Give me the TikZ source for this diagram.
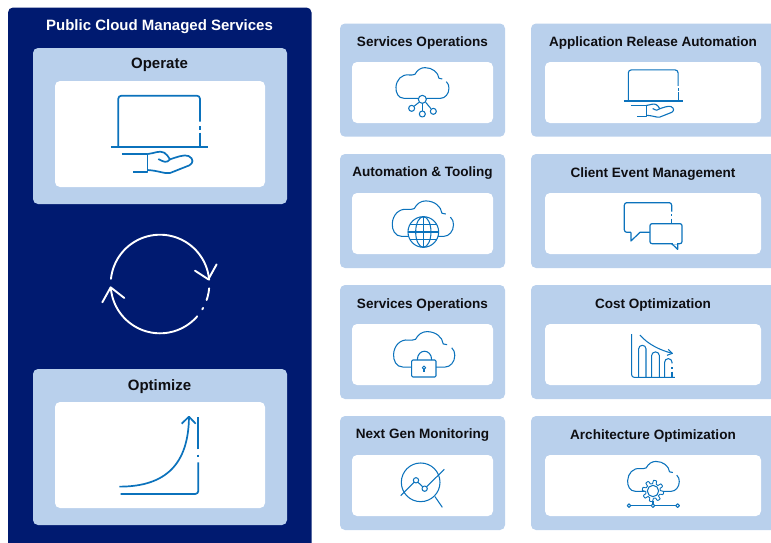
\documentclass[tikz,border=0pt]{standalone}
\usepackage{fontspec}
\setmainfont{Liberation Sans}
\definecolor{navy}{HTML}{001A70}
\definecolor{lightcard}{HTML}{B9D0EC}
\definecolor{iconblue}{HTML}{0B72BC}
\definecolor{titleink}{HTML}{0E0E12}
\tikzset{
  panelbox/.style={fill=navy,rounded corners=5pt},
  cardbox/.style={fill=lightcard,rounded corners=5pt},
  innerbox/.style={fill=white,rounded corners=5pt},
  cardtitle/.style={inner sep=0pt,anchor=base,text=titleink,font=\bfseries\fontsize{13.55}{16}\selectfont},
  maintitle/.style={inner sep=0pt,anchor=base,text=titleink,font=\bfseries\fontsize{15}{18}\selectfont},
  bigtitle/.style={inner sep=0pt,anchor=base,text=white,font=\bfseries\fontsize{15}{18}\selectfont},
  bigicon/.style={draw=iconblue,line width=1.7pt,line join=round,fill=none},
  smallicon/.style={draw=iconblue,line width=1.05pt,line join=round,fill=none},
  whiteicon/.style={draw=white,line width=1.9pt,line cap=round,line join=round,fill=none}
}
\newcommand{\laptophand}{%
  \draw[rounded corners=3pt] (-123,0) -- (-123,-153) -- (122,-153) -- (122,-75);
  \draw (122,-62) -- (122,-50);
  \draw (122,-42) -- (122,0);
  \draw (-145,0) -- (145,0);
  \draw (-112,22) -- (-35,22) -- (-35,76) -- (-80,76);
  \draw (-35,22) .. controls (-15,20) and (0,10) .. (15,18) .. controls (22,22) and (27,30) .. (32,38) .. controls (22,50) and (14,46) .. (-3,37);
  \draw (32,38) .. controls (50,32) and (75,22) .. (88,28) .. controls (104,36) and (102,50) .. (90,56) -- (32,79) .. controls (15,82) and (0,72) .. (-35,70);
}
\newcommand{\cloudshape}{%
  \path[fill=white] (0,45) -- (-55,45) .. controls (-72,45) and (-80,28) .. (-79,12) .. controls (-78,-10) and (-62,-28) .. (-40,-25) .. controls (-34,-24) and (-28,-25) .. (-22,-27) .. controls (-15,-40) and (-5,-47) .. (8,-47) .. controls (30,-47) and (48,-33) .. (48,-15) .. controls (60,-15) and (80,-5) .. (80,15) .. controls (80,32) and (68,45) .. (55,45) -- cycle;
  \draw (0,45) -- (-55,45) .. controls (-72,45) and (-80,28) .. (-79,12) .. controls (-78,-10) and (-62,-28) .. (-40,-25) .. controls (-34,-24) and (-28,-25) .. (-22,-27) .. controls (-15,-40) and (-5,-47) .. (8,-47) .. controls (30,-47) and (48,-33) .. (50,-15) -- (60,-13);
  \draw (72,-5) .. controls (78,0) and (80,8) .. (80,15) .. controls (80,32) and (68,45) .. (55,45) -- (0,45);
}
\begin{document}
\begin{tikzpicture}[x=1pt,y=-1pt]
\useasboundingbox (0,0) rectangle (771,542);
% left panel
\path[panelbox] (8,7.5) rectangle (311.5,548);
\node[bigtitle] (ptitle) at (159.5,30.5) {Public Cloud Managed Services};
\path[cardbox] (33,48) rectangle (287,204);
\path[innerbox] (55,81) rectangle (265,187);
\node[maintitle] (operate) at (159.5,68) {Operate};
\path[cardbox] (33,369) rectangle (287,525);
\path[innerbox] (55,402) rectangle (265,508);
\node[maintitle] (optimize) at (159.5,390) {Optimize};
% operate icon
\begin{scope}[shift={(159.3,146.7)},scale=0.3333,bigicon]
\laptophand
\end{scope}
% optimize icon
\begin{scope}[shift={(0,210)},scale=0.3333,bigicon]
\draw (358,830) .. controls (500,830) and (565,760) .. (567,622);
\draw (545,641) -- (567,620) -- (587,641);
\draw[rounded corners=3pt] (362,852) -- (595,852) -- (595,757);
\draw (595,734) -- (595,740);
\draw (595,718) -- (595,620);
\end{scope}
% cycle
\draw[whiteicon] plot[smooth,domain=186:355,samples=50] ({160+49.3*cos(\x)},{284+49.3*sin(\x)});
\draw[whiteicon] plot[smooth,domain=5:19,samples=6] ({160+49.3*cos(\x)},{284+49.3*sin(\x)});
\draw[whiteicon] plot[smooth,domain=29:31,samples=3] ({160+49.3*cos(\x)},{284+49.3*sin(\x)});
\draw[whiteicon] plot[smooth,domain=41:175,samples=50] ({160+49.3*cos(\x)},{284+49.3*sin(\x)});
\begin{scope}[shift={(0,210)},scale=0.3333,whiteicon]
\draw (585,182) -- (625,208) -- (650,163);
\draw (307,277) -- (332,232) -- (373,264);
\end{scope}
% cards
\foreach \ya/\yb/\yc/\yd in {23.5/136.7/62/123,154/268/193/254,285/399/324/385,416/530/455/516}{
  \path[cardbox] (340,\ya) rectangle (505,\yb);
  \path[innerbox] (352,\yc) rectangle (493,\yd);
  \path[cardbox] (531,\ya) rectangle (776,\yb);
  \path[innerbox] (545,\yc) rectangle (761,\yd);
}
\node[cardtitle] (a1) at (422.5,46) {Services Operations};
\node[cardtitle] (a2) at (422.5,176) {Automation \& Tooling};
\node[cardtitle] (a3) at (422.5,308) {Services Operations};
\node[cardtitle] (a4) at (422.5,438) {Next Gen Monitoring};
\node[cardtitle] (b1) at (653,46) {Application Release Automation};
\node[cardtitle] (b2) at (653,177) {Client Event Management};
\node[cardtitle] (b3) at (653,308) {Cost Optimization};
\node[cardtitle] (b4) at (653,439) {Architecture Optimization};
% network cloud
\begin{scope}[shift={(422.3,83.3)},scale=0.3333,smallicon]
\cloudshape
\end{scope}
\begin{scope}[shift={(335,15)},scale=0.3333,smallicon]
\draw (262,265) -- (262,287);
\draw (252,262) -- (237,274);
\draw (272,262) -- (288,281);
\draw[fill=white] (262,253) circle[radius=12];
\draw (230,280) circle[radius=9];
\draw (262,297) circle[radius=9];
\draw (295,289) circle[radius=9];
\end{scope}
% globe cloud
\begin{scope}[shift={(422.7,219)},scale=0.385,smallicon]
\cloudshape
\end{scope}
\begin{scope}[shift={(335,15)},scale=0.3333,smallicon]
\draw[fill=white] (265,651) circle[radius=46];
\draw (265,651) ellipse[x radius=23,y radius=46];
\draw (265,605) -- (265,697);
\draw (219,651) -- (311,651);
\draw (226,628) -- (304,628);
\draw (226,674) -- (304,674);
\end{scope}
% lock cloud
\begin{scope}[shift={(424,349.7)},scale=0.385,smallicon]
\cloudshape
\end{scope}
\begin{scope}[shift={(335,280)},scale=0.3333,smallicon]
\draw[fill=white,rounded corners=1.2pt] (230,240) rectangle (303,291);
\draw (247,240) .. controls (247,205) and (290,205) .. (290,240);
\draw (267,263) circle[radius=5];
\draw (267,268) -- (267,277);
\end{scope}
% monitoring
\begin{scope}[shift={(335,280)},scale=0.3333,smallicon]
\draw (257,607) circle[radius=58];
\draw (300,650) -- (322,682);
\draw (197,647) -- (237,607);
\draw (249,607) -- (263,620);
\draw (275,620) -- (328,568);
\draw[fill=white] (243,601) circle[radius=8];
\draw[fill=white] (269,626) circle[radius=8];
\end{scope}
% small laptop
\begin{scope}[shift={(653.3,101)},scale=0.2033,bigicon,line width=1.1pt]
\laptophand
\end{scope}
% chat
\begin{scope}[shift={(525,15)},scale=0.3333,smallicon,line width=1.2pt]
\draw[rounded corners=2.5pt] (440,590) -- (440,563) -- (298,563) -- (298,652) -- (318,652);
\draw (318,652) -- (318,678) -- (345,652) -- (375,652);
\draw (440,598) -- (440,603);
\draw (440,611) -- (440,626);
\draw[fill=white,rounded corners=2pt] (375,626) rectangle (471,686);
\draw[white] (443,686) -- (456,686);
\draw (458,686) -- (458,703) -- (440,686);
\end{scope}
% cost chart
\begin{scope}[shift={(525,280)},scale=0.3333,smallicon]
\draw[rounded corners=2.5pt] (320,162) -- (320,292) -- (450,292);
\draw[rounded corners=3.5pt] (341,292) -- (341,196) -- (363,196) -- (363,292);
\draw[rounded corners=3.5pt] (380,292) -- (380,216) -- (403,216) -- (403,292);
\draw[rounded corners=3.5pt] (419,292) -- (419,236) -- (441,236) -- (441,250);
\draw (441,262) -- (441,266);
\draw (441,275) -- (441,292);
\draw (345,165) .. controls (370,195) and (410,212) .. (442,220);
\draw (430,208) -- (442,220) -- (426,226);
\end{scope}
% architecture cloud
\begin{scope}[shift={(653.3,476.7)},scale=0.325,smallicon]
\cloudshape
\end{scope}
\begin{scope}[shift={(525,280)},scale=0.3333,smallicon]
\draw (312,677) -- (458,677);
\draw[fill=white,line width=0.9pt] plot[domain=0:357,samples=120] ({384+(27+5*max(min(3*sin(8*\x),1),-1))*cos(\x)},{633+(27+5*max(min(3*sin(8*\x),1),-1))*sin(\x)}) -- cycle;
\draw (384,633) circle[radius=17];
\draw (384,664) -- (384,677);
\draw[fill=white] (312,677) circle[radius=5.5];
\draw[fill=white] (384,677) circle[radius=5.5];
\draw[fill=white] (458,677) circle[radius=5.5];
\end{scope}
\end{tikzpicture}
\end{document}
